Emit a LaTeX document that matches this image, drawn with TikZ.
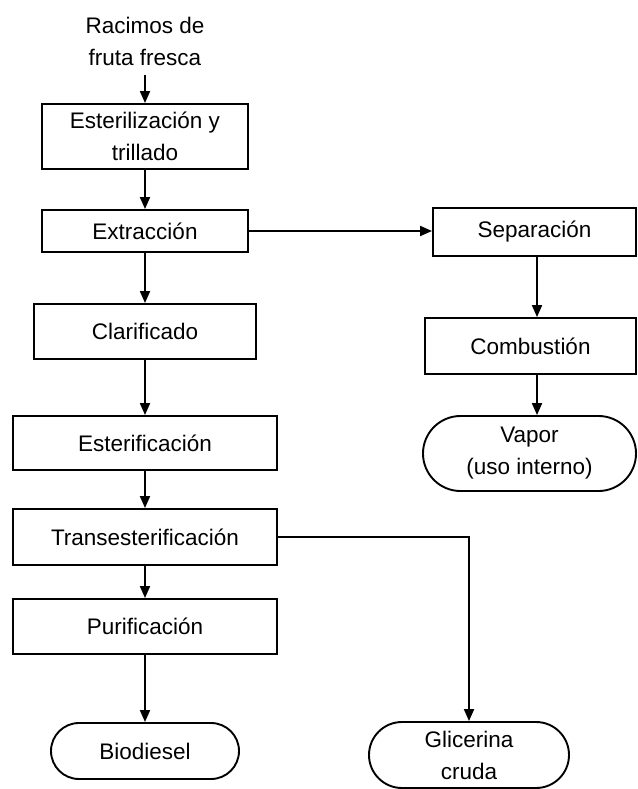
\documentclass[tikz,border=0pt]{standalone}
\usepackage{fontspec}
\setmainfont{Liberation Sans}
\usetikzlibrary{arrows.meta,shapes.misc}

\tikzset{
  proc/.style={draw, line width=1.9pt, rectangle, align=center, inner sep=0pt},
  term/.style={draw, line width=1.9pt, rounded rectangle, align=center, inner sep=0pt},
  plain/.style={align=center, inner sep=0pt},
  flow/.style={line width=1.9pt, -{Triangle[length=12pt,width=10pt]}}
}

\begin{document}
\begin{tikzpicture}[x=1pt, y=-1pt,
  every node/.append style={font=\fontsize{22.5}{32}\selectfont}]
  \useasboundingbox (0,0) rectangle (637,789);

  % main line (left column)
  \node[plain] (rff) at (145,41) {Racimos de\\fruta fresca};
  \node[proc, minimum width=206pt, minimum height=65pt] (est) at (145,136.5) {Esterilización y\\trillado};
  \node[proc, minimum width=206pt, minimum height=42pt] (ext) at (145,231) {Extracción};
  \node[proc, minimum width=222pt, minimum height=55pt] (cla) at (145,331.5) {Clarificado};
  \node[proc, minimum width=264pt, minimum height=54pt] (esf) at (145,443) {Esterificación};
  \node[proc, minimum width=264pt, minimum height=56pt] (tra) at (145,537) {Transesterificación};
  \node[proc, minimum width=264pt, minimum height=55pt] (pur) at (145,626.5) {Purificación};
  \node[term, minimum width=188pt, minimum height=56pt] (bio) at (145,751) {Biodiesel};

  % by-product branch (right column)
  \node[proc, minimum width=203pt, minimum height=48pt] (sep) at (534.5,232) {Separación};
  \node[proc, minimum width=211pt, minimum height=56pt] (com) at (530.5,346) {Combustión};
  \node[term, minimum width=213pt, minimum height=75pt] (vap) at (529.5,453.5) {Vapor\\(uso interno)};
  \node[term, minimum width=200pt, minimum height=66pt] (gli) at (469,755) {Glicerina\\cruda};

  % connectors
  \draw[flow] (rff.south |- 0,75) -- (rff.south |- est.north);
  \draw[flow] (est.south) -- (est.south |- ext.north);
  \draw[flow] (ext.south) -- (ext.south |- cla.north);
  \draw[flow] (cla.south) -- (cla.south |- esf.north);
  \draw[flow] (esf.south) -- (esf.south |- tra.north);
  \draw[flow] (tra.south) -- (tra.south |- pur.north);
  \draw[flow] (pur.south) -- (pur.south |- bio.north);

  \draw[flow] (ext.east) -- (sep.west |- ext.east);
  \coordinate (sepdrop) at (537,0);
  \draw[flow] (sepdrop |- sep.south) -- (sepdrop |- com.north);
  \draw[flow] (sepdrop |- com.south) -- (sepdrop |- vap.north);

  \draw[flow] (tra.east) -| (gli.north);
\end{tikzpicture}
\end{document}
